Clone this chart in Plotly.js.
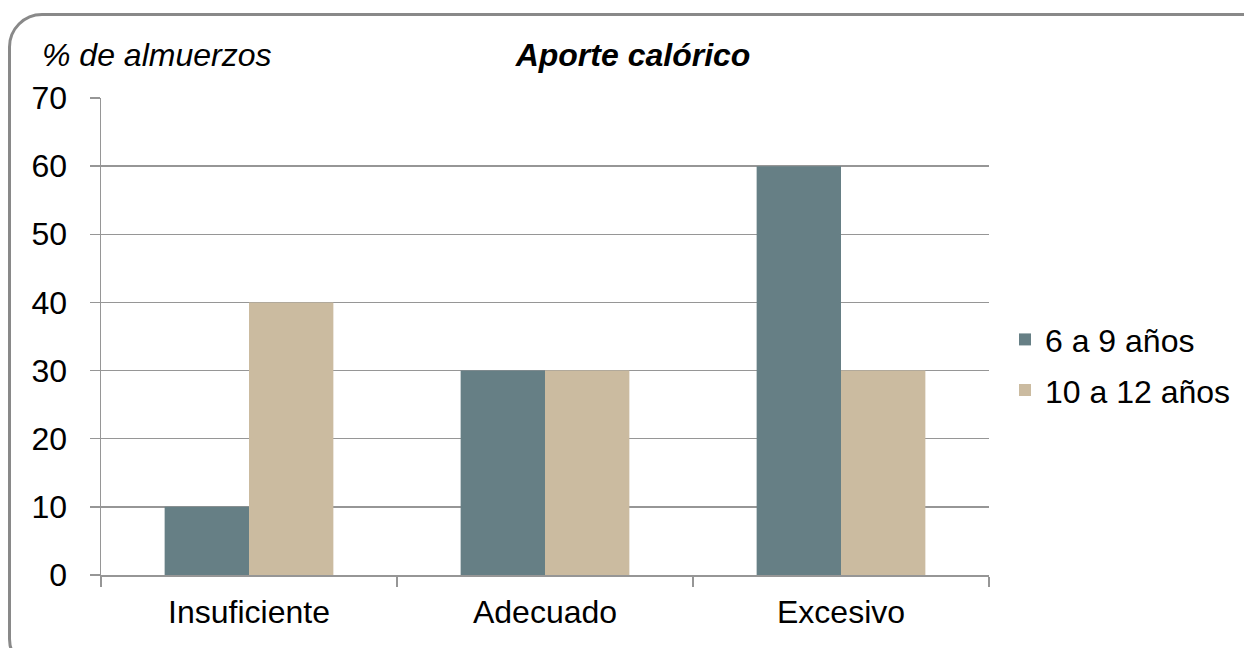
<!DOCTYPE html>
<html>
<head>
<meta charset="utf-8">
<script src="https://cdn.plot.ly/plotly-3.0.1.min.js"></script>
<style>
  html, body { margin: 0; padding: 0; width: 1244px; height: 648px; overflow: hidden; background: #fff; }
  #frame { position: absolute; left: 8px; top: 13px; width: 1270px; height: 660px; border: 3px solid #898989; border-radius: 34px; box-sizing: border-box; pointer-events: none; z-index: 2; }
  #chart { position: absolute; left: 0; top: 0; width: 1244px; height: 648px; }
</style>
</head>
<body>
<div id="chart"></div>
<div id="frame"></div>
<script>
const categories = ["Insuficiente", "Adecuado", "Excesivo"];
const seriesNames = ["6 a 9 años", "10 a 12 años"];
const values6a9 = [10, 30, 60];
const values10a12 = [40, 30, 30];
const yTicks = [0, 10, 20, 30, 40, 50, 60, 70];

const FONT = "Arial, 'Liberation Sans', sans-serif";
const GRID = "#969696";
const FS = 32;

const traces = [
  { type: "bar", name: seriesNames[0], x: categories, y: values6a9,
    marker: { color: "#667f85" }, legendgroup: "a", hoverinfo: "x+y+name" },
  { type: "bar", name: seriesNames[1], x: categories, y: values10a12,
    marker: { color: "#cbbba0" }, legendgroup: "b", hoverinfo: "x+y+name" }
];

const layout = {
  width: 1244, height: 648,
  margin: { l: 101, r: 255, t: 98, b: 73, pad: 0, autoexpand: false },
  paper_bgcolor: "rgba(0,0,0,0)", plot_bgcolor: "rgba(0,0,0,0)",
  font: { family: FONT, size: FS, color: "#000" },
  barmode: "group", bargap: 0.43, bargroupgap: 0,
  showlegend: true,
  legend: { x: 1.018, xanchor: "left", y: 0.44, yanchor: "middle",
            font: { family: FONT, size: FS, color: "#000" },
            traceorder: "grouped", tracegroupgap: 6,
            bgcolor: "rgba(0,0,0,0)", itemwidth: 30 },
  xaxis: { type: "category", tickson: "boundaries", ticks: "outside", ticklen: 10,
           tickcolor: GRID, tickwidth: 1.5, showline: true, linecolor: GRID, linewidth: 1.5,
           showgrid: false, tickfont: { family: FONT, size: FS }, ticklabelstandoff: 8,
           fixedrange: true, automargin: false },
  yaxis: { range: [0, 70], tickvals: yTicks, ticks: "outside", ticklen: 10,
           tickcolor: GRID, tickwidth: 1.5, showline: true, linecolor: GRID, linewidth: 1.5,
           showgrid: true, gridcolor: GRID, gridwidth: 1.5, zeroline: false,
           tickfont: { family: FONT, size: FS }, ticklabelstandoff: 16, fixedrange: true,
           automargin: false },
  title: { text: "Aporte calórico", xref: "container", yref: "container",
           x: 633 / 1244, xanchor: "center", y: 1 - 55 / 648, yanchor: "middle",
           font: { family: FONT, size: FS, weight: "bold", style: "italic", color: "#000" } },
  annotations: [
    { text: "% de almuerzos", xref: "paper", yref: "paper",
      x: (40 - 101) / 888, xanchor: "left", y: (575 - 55) / 477, yanchor: "middle",
      showarrow: false, font: { family: FONT, size: FS, style: "italic", color: "#000" } }
  ]
};

Plotly.newPlot("chart", traces, layout, { displayModeBar: false, staticPlot: true });
</script>
</body>
</html>
